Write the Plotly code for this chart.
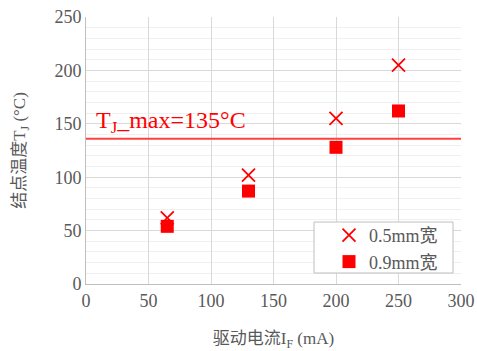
import plotly.graph_objects as go

currents = [65, 130, 200, 250]
tj_05mm = [62, 102, 155, 205]
tj_09mm = [54, 87, 128, 162]
tj_max_line = 136
series_names = ["0.5mm宽", "0.9mm宽"]
x_ticks = [0, 50, 100, 150, 200, 250, 300]
y_ticks = [0, 50, 100, 150, 200, 250]

RED = "#FF0000"
GREY = "#595959"
FONT = "Liberation Serif, Noto Sans CJK SC, serif"
W, H = 477, 351
ML, MR, MT, MB = 86, 16, 17, 67
PW, PH = W - ML - MR, H - MT - MB


def px_x(p):
    return (p - ML) / PW


def px_y(p):
    return (H - MB - p) / PH


fig = go.Figure()
fig.add_trace(go.Scatter(
    x=currents, y=tj_05mm, mode="markers", name=series_names[0],
    marker=dict(symbol="x-thin", size=13, color=RED, line=dict(color=RED, width=1.8)),
))
fig.add_trace(go.Scatter(
    x=currents, y=tj_09mm, mode="markers", name=series_names[1],
    marker=dict(symbol="square", size=13, color=RED, line=dict(width=0)),
))

fig.add_hline(y=tj_max_line, line=dict(color="#FF4040", width=2))
fig.add_annotation(
    x=0, xref="paper", y=px_y(122), yref="paper", xanchor="left", yanchor="middle", xshift=8,
    text="T<sub>J</sub>_max=135°C", showarrow=False,
    font=dict(family=FONT, size=24, color=RED),
)

# legend frame
fig.add_shape(type="rect", xref="paper", yref="paper",
              x0=px_x(314), x1=px_x(453), y0=px_y(273), y1=px_y(222),
              line=dict(color="#BFBFBF", width=1), fillcolor="white", layer="above")

fig.update_layout(
    width=W, height=H,
    margin=dict(l=ML, r=MR, t=MT, b=MB),
    plot_bgcolor="white", paper_bgcolor="white",
    font=dict(family=FONT, color=GREY, size=18),
    showlegend=True,
    legend=dict(
        x=px_x(329), y=px_y(217), xanchor="left", yanchor="top",
        bgcolor="rgba(0,0,0,0)", borderwidth=0,
        font=dict(family=FONT, size=18, color=GREY),
        itemwidth=30, tracegroupgap=0,
    ),
    xaxis=dict(
        range=[0, 300], tickvals=x_ticks, showgrid=True, gridcolor="#D9D9D9",
        showline=True, linecolor="#BFBFBF", linewidth=1, zeroline=False,
        ticks="", tickfont=dict(size=18, color=GREY, family=FONT), automargin=False,
        title=dict(text="驱动电流I<sub>F</sub> (mA)", standoff=22,
                   font=dict(size=17, color=GREY, family=FONT)),
    ),
    yaxis=dict(
        range=[0, 250], tickvals=y_ticks, showgrid=True, gridcolor="#D9D9D9",
        showline=True, linecolor="#BFBFBF", linewidth=1, zeroline=False,
        ticks="", tickfont=dict(size=18, color=GREY, family=FONT), automargin=False,
        minor=dict(dtick=10, showgrid=True, gridcolor="#F0F0F0"),
        title=dict(text="结点温度T<sub>J</sub> (°C)", standoff=24,
                   font=dict(size=17, color=GREY, family=FONT)),
    ),
)

fig.write_html("out.html")
